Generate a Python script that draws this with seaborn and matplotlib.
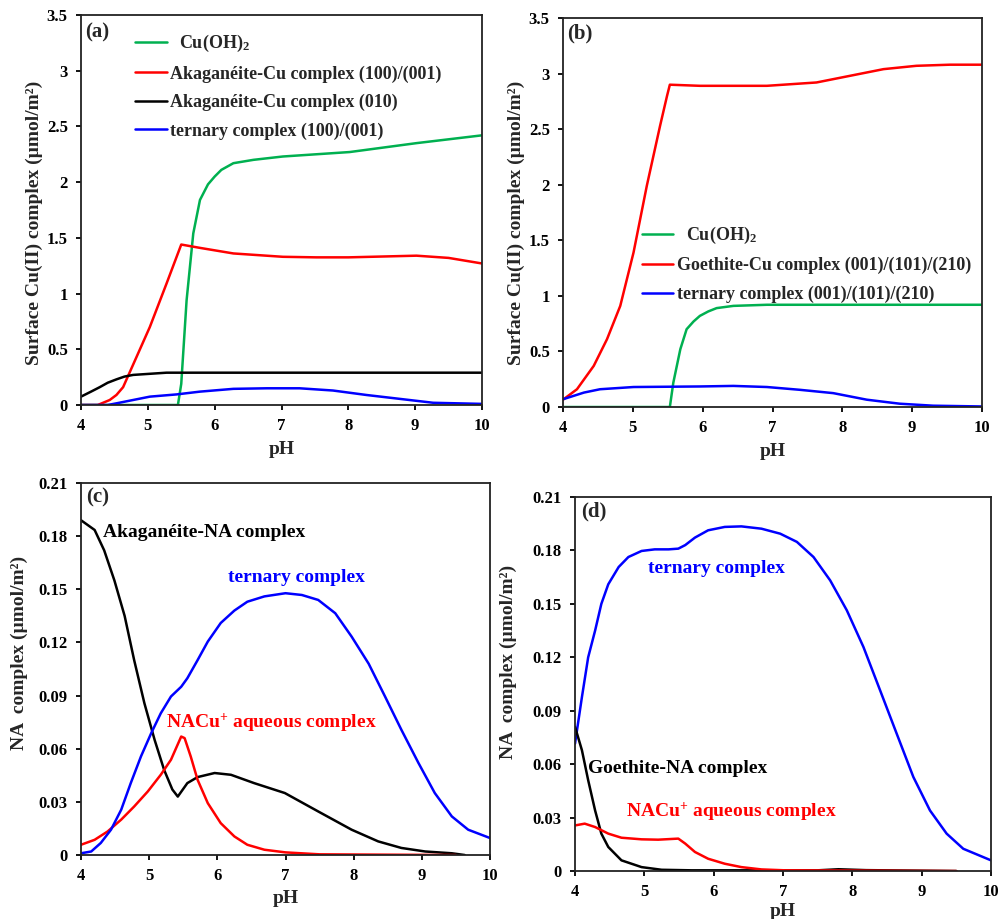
import numpy as np
import pandas as pd
import matplotlib
matplotlib.use("Agg")
import matplotlib.pyplot as plt
import seaborn as sns

sns.set_theme(style="ticks")
plt.rcParams['font.family'] = ['Liberation Serif', 'DejaVu Serif']
plt.rcParams['font.weight'] = 'bold'
plt.rcParams['axes.labelweight'] = 'bold'
plt.rcParams['mathtext.fontset'] = 'custom'
plt.rcParams['mathtext.rm'] = 'Liberation Serif:bold'
plt.rcParams['mathtext.it'] = 'Liberation Serif:bold'
plt.rcParams['mathtext.bf'] = 'Liberation Serif:bold'

GREEN = '#00b050'
RED = '#ff0000'
BLUE = '#0000ff'
BLACK = '#000000'

# (a) akaganeite, Cu(II) surface species
a_cuoh2_ph = [4.0, 5.45, 5.5, 5.58, 5.68, 5.78, 5.9, 6.0, 6.1, 6.28, 6.58, 7.02, 8.02, 9.02, 10.0]
a_cuoh2_v = [0.0, 0.0, 0.19, 0.94, 1.54, 1.84, 1.98, 2.05, 2.11, 2.17, 2.2, 2.23, 2.27, 2.35, 2.42]
a_red_ph = [4.0, 4.25, 4.43, 4.53, 4.63, 4.83, 5.03, 5.28, 5.5, 5.78, 6.28, 7.02, 7.52, 8.0, 9.02, 9.5, 10.0]
a_red_v = [0.0, 0.0, 0.045, 0.09, 0.16, 0.43, 0.70, 1.09, 1.44, 1.41, 1.36, 1.33, 1.325, 1.325, 1.34, 1.32, 1.27]
a_black_ph = [4.0, 4.15, 4.28, 4.4, 4.53, 4.65, 4.78, 5.03, 5.28, 6.0, 10.0]
a_black_v = [0.075, 0.12, 0.16, 0.2, 0.23, 0.255, 0.27, 0.28, 0.29, 0.29, 0.29]
a_blue_ph = [4.0, 4.4, 4.53, 4.78, 5.03, 5.43, 5.78, 6.28, 6.78, 7.27, 7.77, 8.27, 8.77, 9.27, 10.0]
a_blue_v = [0.0, 0.0, 0.015, 0.045, 0.075, 0.095, 0.12, 0.145, 0.15, 0.15, 0.13, 0.09, 0.055, 0.02, 0.01]

# (b) goethite, Cu(II) surface species
b_red_ph = [4.0, 4.2, 4.44, 4.63, 4.82, 5.01, 5.2, 5.39, 5.49, 5.53, 5.96, 6.92, 7.63, 8.11, 8.59, 9.06, 9.54, 10.0]
b_red_v = [0.066, 0.16, 0.37, 0.61, 0.91, 1.39, 1.99, 2.53, 2.80, 2.90, 2.89, 2.89, 2.92, 2.98, 3.04, 3.07, 3.08, 3.08]
b_cuoh2_ph = [4.0, 5.53, 5.58, 5.68, 5.77, 5.87, 5.96, 6.08, 6.2, 6.44, 6.92, 10.0]
b_cuoh2_v = [0.0, 0.0, 0.22, 0.52, 0.70, 0.77, 0.82, 0.86, 0.89, 0.91, 0.92, 0.92]
b_blue_ph = [4.0, 4.3, 4.53, 5.01, 5.96, 6.44, 6.92, 7.39, 7.87, 8.35, 8.82, 9.3, 10.0]
b_blue_v = [0.07, 0.13, 0.16, 0.18, 0.185, 0.19, 0.18, 0.155, 0.125, 0.066, 0.03, 0.012, 0.005]

# (c) akaganeite, NA species
c_black_ph = [4.0, 4.2, 4.34, 4.49, 4.64, 4.78, 4.93, 5.08, 5.22, 5.34, 5.42, 5.56, 5.71, 5.96, 6.2,
              6.54, 6.99, 7.48, 7.97, 8.36, 8.7, 9.05, 9.44, 9.63]
c_black_v = [0.189, 0.1835, 0.172, 0.155, 0.135, 0.110, 0.0857, 0.065, 0.048, 0.037, 0.033, 0.0406,
             0.044, 0.0463, 0.0453, 0.0406, 0.035, 0.0246, 0.0143, 0.0077, 0.004, 0.002, 0.001, 0.0]
c_red_ph = [4.0, 4.2, 4.39, 4.59, 4.78, 4.98, 5.17, 5.32, 5.47, 5.52, 5.61, 5.71, 5.86, 6.05, 6.25,
            6.44, 6.69, 7.0, 7.5, 9.5]
c_red_v = [0.0058, 0.0086, 0.0133, 0.020, 0.0274, 0.0359, 0.0453, 0.0538, 0.0669, 0.066, 0.0556,
           0.0425, 0.0293, 0.018, 0.0105, 0.0058, 0.003, 0.0015, 0.0004, 0.0]
c_blue_ph = [4.0, 4.15, 4.29, 4.44, 4.59, 4.73, 4.88, 5.03, 5.17, 5.32, 5.47, 5.56, 5.71, 5.86, 6.05,
             6.25, 6.44, 6.69, 7.0, 7.24, 7.48, 7.73, 7.97, 8.22, 8.46, 8.7, 8.95, 9.19, 9.44, 9.68, 10.0]
c_blue_v = [0.001, 0.002, 0.0068, 0.0143, 0.0256, 0.0406, 0.0557, 0.0688, 0.080, 0.0895, 0.095,
            0.0998, 0.110, 0.1205, 0.131, 0.138, 0.143, 0.146, 0.1478, 0.1468, 0.144, 0.1365,
            0.1233, 0.108, 0.0895, 0.0707, 0.052, 0.035, 0.0218, 0.0143, 0.0096]

# (d) goethite, NA species
d_blue_ph = [4.0, 4.1, 4.19, 4.29, 4.38, 4.48, 4.63, 4.77, 4.96, 5.15, 5.35, 5.49, 5.59, 5.73, 5.92,
             6.16, 6.4, 6.69, 6.96, 7.2, 7.44, 7.68, 7.92, 8.16, 8.4, 8.64, 8.88, 9.12, 9.36, 9.6, 10.0]
d_blue_v = [0.0715, 0.0977, 0.120, 0.135, 0.150, 0.161, 0.1707, 0.1763, 0.1797, 0.1806, 0.1806, 0.181,
            0.183, 0.1872, 0.1913, 0.1932, 0.1935, 0.1922, 0.1894, 0.1848, 0.1763, 0.1632, 0.1464,
            0.1258, 0.1015, 0.0771, 0.0528, 0.034, 0.021, 0.0125, 0.006]
d_black_ph = [4.0, 4.1, 4.19, 4.29, 4.38, 4.48, 4.67, 4.96, 5.25, 5.68, 7.5, 7.8, 8.2, 9.5]
d_black_v = [0.081, 0.0678, 0.051, 0.034, 0.021, 0.0135, 0.006, 0.0022, 0.0007, 0.0004, 0.0004,
             0.001, 0.0005, 0.0]
d_red_ph = [4.0, 4.14, 4.29, 4.48, 4.67, 4.96, 5.2, 5.49, 5.59, 5.73, 5.92, 6.16, 6.4, 6.69, 7.03, 9.5]
d_red_v = [0.0256, 0.0266, 0.0247, 0.021, 0.0187, 0.0178, 0.0176, 0.0182, 0.0154, 0.0107, 0.0069,
           0.0041, 0.0022, 0.0009, 0.0004, 0.0]


def draw(ax, ph, v, color, label=None):
    df = pd.DataFrame({'pH': ph, 'v': v})
    sns.lineplot(data=df, x='pH', y='v', color=color, lw=1.8, ax=ax, label=label, sort=False)


def style(ax, ymax, ystep, ylabel, ylab_xy, xlab_y):
    ax.set_xlim(4, 10)
    ax.set_ylim(0, ymax)
    ax.set_xticks(range(4, 11))
    yt = np.round(np.arange(0, ymax + ystep / 2, ystep), 3)
    ax.set_yticks(yt)
    ax.set_yticklabels([('%g' % t) for t in yt])
    ax.tick_params(direction='out', length=3.5, width=1.3, labelsize=12, colors='black', pad=6)
    for t in ax.get_xticklabels() + ax.get_yticklabels():
        t.set_fontweight('bold')
    for s in ax.spines.values():
        s.set_visible(True)
        s.set_linewidth(1.3)
        s.set_color('#222222')
    ax.set_xlabel('pH', fontsize=14, fontweight='bold')
    ax.set_ylabel(ylabel, fontsize=14, fontweight='bold')
    ax.yaxis.set_label_coords(*ylab_xy)
    ax.xaxis.set_label_coords(0.5, xlab_y)


fig = plt.figure(figsize=(10, 9.19), dpi=100)
ax_a = fig.add_axes([0.081, 0.5593, 0.401, 0.4244])
ax_b = fig.add_axes([0.563, 0.5571, 0.419, 0.4233])
ax_c = fig.add_axes([0.081, 0.0696, 0.409, 0.4048])
ax_d = fig.add_axes([0.575, 0.0522, 0.416, 0.407])

cu_label = 'Surface Cu(II) complex (µmol/m²)'
na_label = 'NA  complex (µmol/m²)'
cuoh2 = '  Cu(OH)$_{\\mathregular{2}}$'
nacu = 'NACu$^{\\mathregular{+}}$ aqueous complex'
leg_kw = dict(loc='upper left', frameon=False, prop={'size': 13, 'weight': 'bold'},
              handlelength=1.75, handletextpad=0.2, labelspacing=0.62, borderaxespad=0)

# panel (a)
draw(ax_a, a_cuoh2_ph, a_cuoh2_v, GREEN, cuoh2)
draw(ax_a, a_red_ph, a_red_v, RED, 'Akaganéite-Cu complex (100)/(001)')
draw(ax_a, a_black_ph, a_black_v, BLACK, 'Akaganéite-Cu complex (010)')
draw(ax_a, a_blue_ph, a_blue_v, BLUE, 'ternary complex (100)/(001)')
style(ax_a, 3.5, 0.5, cu_label, (-0.095, 0.467), -0.092)
ax_a.legend(bbox_to_anchor=(0.117, 0.972), **leg_kw)
ax_a.text(0.01, 0.956, '(a)', transform=ax_a.transAxes, fontsize=15, fontweight='bold', va='center')

# panel (b)
draw(ax_b, b_cuoh2_ph, b_cuoh2_v, GREEN, cuoh2)
draw(ax_b, b_red_ph, b_red_v, RED, 'Goethite-Cu complex (001)/(101)/(210)')
draw(ax_b, b_blue_ph, b_blue_v, BLUE, 'ternary complex (001)/(101)/(210)')
style(ax_b, 3.5, 0.5, cu_label, (-0.091, 0.473), -0.093)
ax_b.legend(bbox_to_anchor=(0.171, 0.487), **leg_kw)
ax_b.text(0.01, 0.96, '(b)', transform=ax_b.transAxes, fontsize=15, fontweight='bold', va='center')

# panel (c)
draw(ax_c, c_black_ph, c_black_v, BLACK)
draw(ax_c, c_red_ph, c_red_v, RED)
draw(ax_c, c_blue_ph, c_blue_v, BLUE)
style(ax_c, 0.21, 0.03, na_label, (-0.13, 0.543), -0.094)
ax_c.text(0.012, 0.96, '(c)', transform=ax_c.transAxes, fontsize=15, fontweight='bold', va='center')
ax_c.text(0.054, 0.866, 'Akaganéite-NA complex', transform=ax_c.transAxes, fontsize=14,
          fontweight='bold', color=BLACK, va='center')
ax_c.text(0.359, 0.745, 'ternary complex', transform=ax_c.transAxes, fontsize=14,
          fontweight='bold', color=BLUE, va='center')
ax_c.text(0.208, 0.355, nacu, transform=ax_c.transAxes, fontsize=14,
          fontweight='bold', color=RED, va='center')

# panel (d)
draw(ax_d, d_blue_ph, d_blue_v, BLUE)
draw(ax_d, d_black_ph, d_black_v, BLACK)
draw(ax_d, d_red_ph, d_red_v, RED)
style(ax_d, 0.21, 0.03, na_label, (-0.139, 0.56), -0.086)
ax_d.text(0.014, 0.96, '(d)', transform=ax_d.transAxes, fontsize=15, fontweight='bold', va='center')
ax_d.text(0.175, 0.81, 'ternary complex', transform=ax_d.transAxes, fontsize=14,
          fontweight='bold', color=BLUE, va='center')
ax_d.text(0.031, 0.275, 'Goethite-NA complex', transform=ax_d.transAxes, fontsize=14,
          fontweight='bold', color=BLACK, va='center')
ax_d.text(0.123, 0.158, nacu, transform=ax_d.transAxes, fontsize=14,
          fontweight='bold', color=RED, va='center')

fig.savefig('out.png', dpi=100, facecolor='white')
